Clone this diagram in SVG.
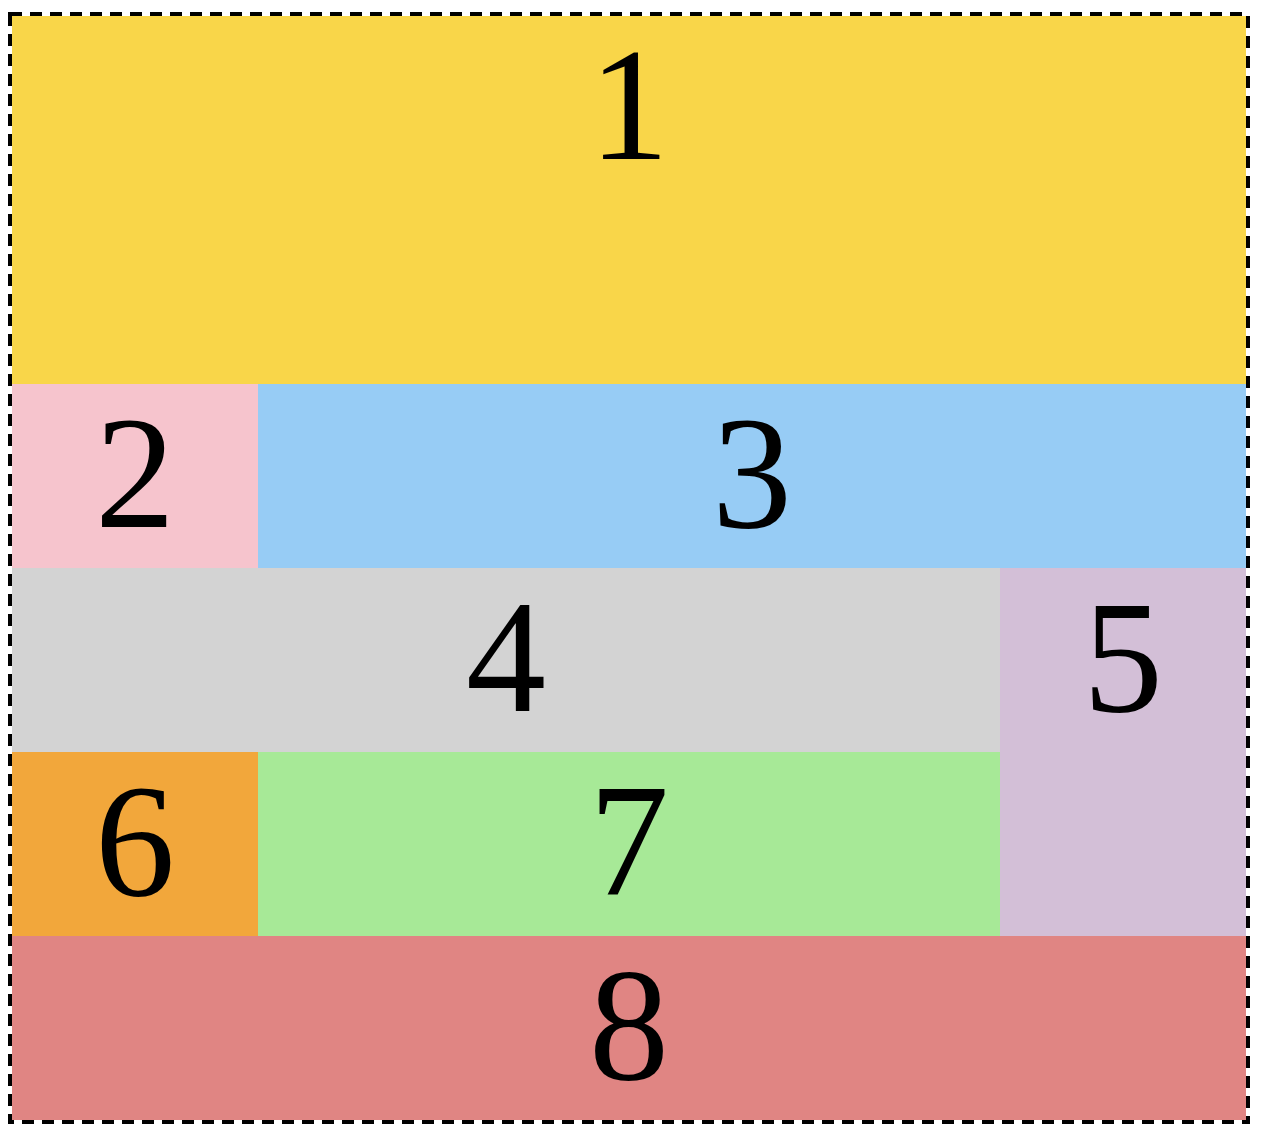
<svg xmlns="http://www.w3.org/2000/svg" width="1264" height="1140" viewBox="0 0 1264 1140">
<style>
text{font-family:"Liberation Serif","Times New Roman",serif;font-size:160px;fill:#000;text-anchor:middle}
</style>
<rect width="1264" height="1140" fill="#fff"/>
<g id="cell1"><rect x="12" y="16" width="1234" height="368" fill="#F9D649"/><text x="629" y="159">1</text></g>
<g id="cell2"><rect x="12" y="384" width="246" height="184" fill="#F6C4CD"/><text x="135" y="527">2</text></g>
<g id="cell3"><rect x="258" y="384" width="988" height="184" fill="#97CCF5"/><text x="752" y="527">3</text></g>
<g id="cell4"><rect x="12" y="568" width="988" height="184" fill="#D3D3D3"/><text x="506" y="711">4</text></g>
<g id="cell5"><rect x="1000" y="568" width="246" height="368" fill="#D3BFD7"/><text x="1123" y="711">5</text></g>
<g id="cell6"><rect x="12" y="752" width="246" height="184" fill="#F2A73B"/><text x="135" y="895">6</text></g>
<g id="cell7"><rect x="258" y="752" width="742" height="184" fill="#A7E997"/><text x="629" y="895">7</text></g>
<g id="cell8"><rect x="12" y="936" width="1234" height="184" fill="#E08583"/><text x="629" y="1079">8</text></g>
<g id="connectors"></g>
<rect id="border" x="10" y="14" width="1238" height="1108" fill="none" stroke="#000" stroke-width="4" stroke-dasharray="12 8"/>
</svg>
